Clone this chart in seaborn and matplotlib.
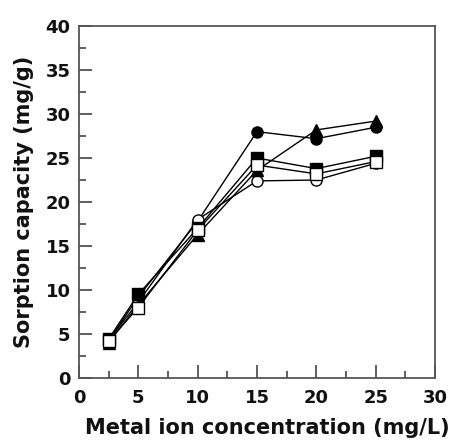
import matplotlib
matplotlib.use("Agg")
import matplotlib.pyplot as plt
import seaborn as sns
import pandas as pd
from matplotlib.ticker import MultipleLocator

concentration = [2.5, 5, 10, 15, 20, 25]
filled_circle = [4.2, 9.2, 17.8, 28.0, 27.2, 28.5]
open_circle = [4.3, 8.6, 18.0, 22.4, 22.5, 24.4]
filled_triangle = [4.0, 8.3, 16.3, 23.6, 28.2, 29.2]
filled_square = [4.4, 9.5, 17.0, 25.0, 23.8, 25.2]
open_square = [4.2, 8.0, 16.8, 24.2, 23.2, 24.6]

series = [
    ("filled circle", filled_circle, "o", "black"),
    ("open circle", open_circle, "o", "white"),
    ("filled triangle", filled_triangle, "^", "black"),
    ("filled square", filled_square, "s", "black"),
    ("open square", open_square, "s", "white"),
]

sns.set_theme(style="ticks")
plt.rcParams['font.family'] = ['DejaVu Sans']

fig = plt.figure(figsize=(4.56, 4.43), dpi=100)
ax = fig.add_axes([0.173, 0.147, 0.781, 0.794])

for name, vals, mk, fc in series:
    df = pd.DataFrame({"x": concentration, "y": vals})
    sns.lineplot(data=df, x="x", y="y", ax=ax, color="black", linewidth=1.0,
                 marker=mk, markersize=8, markerfacecolor=fc,
                 markeredgecolor="black", markeredgewidth=1.0)

ax.set_xlim(0, 30)
ax.set_ylim(0, 40)
ax.xaxis.set_major_locator(MultipleLocator(5))
ax.xaxis.set_minor_locator(MultipleLocator(2.5))
ax.yaxis.set_major_locator(MultipleLocator(5))
ax.yaxis.set_minor_locator(MultipleLocator(2.5))
ax.tick_params(which="both", direction="in", colors="#444444", labelcolor="#111111",
               width=1.2, labelsize=13)
ax.tick_params(which="major", length=9.5)
ax.tick_params(which="minor", length=5)
ax.tick_params(axis="x", which="major", pad=8)
ax.tick_params(axis="y", which="major", pad=6)
for lbl in ax.get_xticklabels() + ax.get_yticklabels():
    lbl.set_fontweight("bold")
for s in ax.spines.values():
    s.set_color("#555555")
    s.set_linewidth(1.3)

ax.set_xlabel("Metal ion concentration (mg/L)", fontsize=15, fontweight="bold",
              color="#111111", labelpad=8)
ax.set_ylabel("Sorption capacity (mg/g)", fontsize=15, fontweight="bold",
              color="#111111", labelpad=8)
ax.xaxis.label.set_x(0.53)

fig.savefig("out.png", dpi=100)
